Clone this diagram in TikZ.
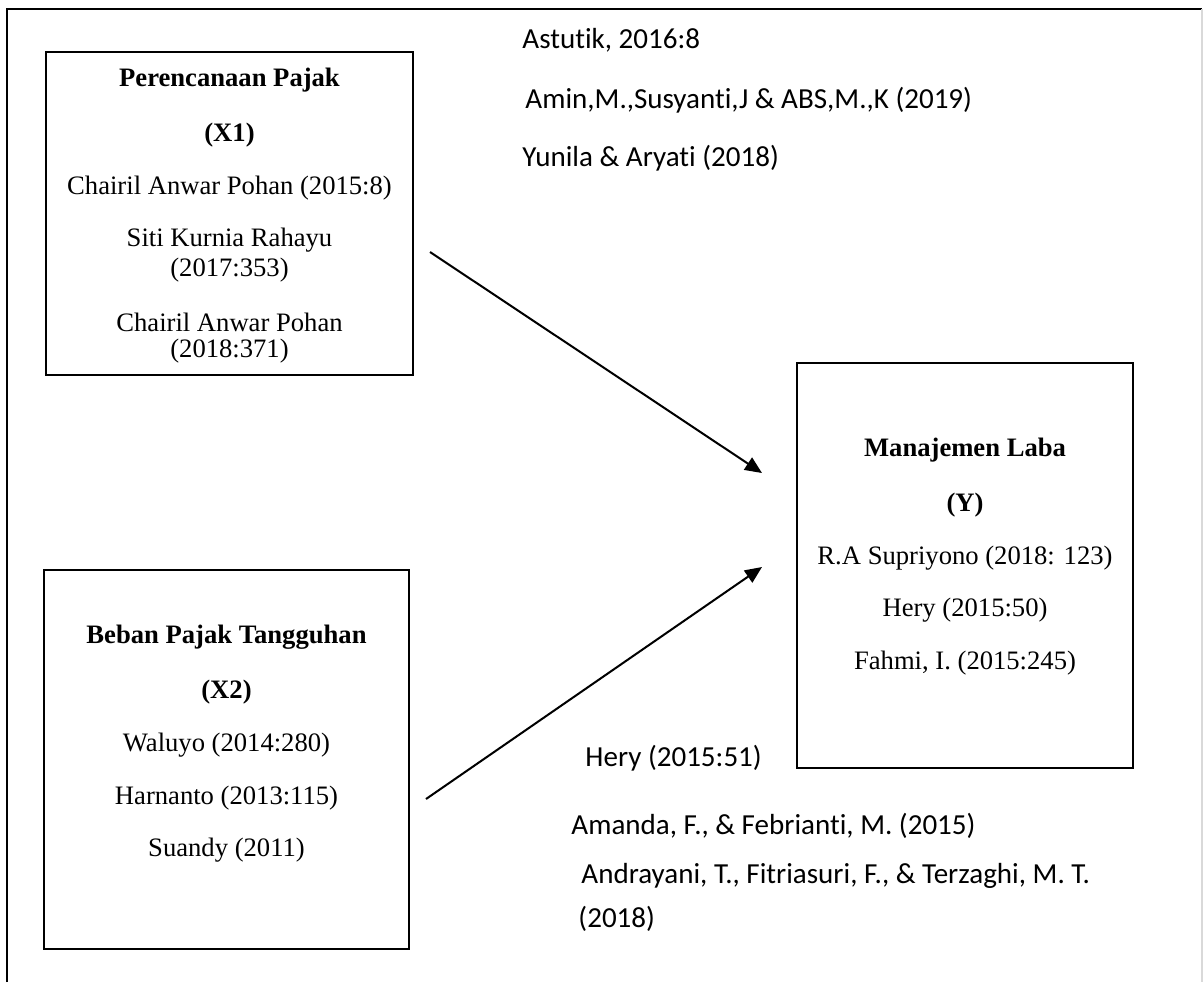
\documentclass[tikz,border=0pt]{standalone}
\usepackage{fontspec}
\setmainfont{Liberation Serif}
\newfontfamily\calibri[Ligatures=NoCommon]{Carlito}
\usetikzlibrary{arrows.meta}

\begin{document}
\begin{tikzpicture}[x=0.4132pt, y=-0.4132pt,
    kotak/.style={draw, line width=0.95pt, inner sep=0pt},
    judul/.style={font=\fontsize{11}{13}\selectfont\bfseries},
    isi/.style={font=\fontsize{11}{13}\selectfont},
    rujukan/.style={font=\calibri\fontsize{12}{14.6}\selectfont, anchor=west, inner sep=0pt},
    panah/.style={line width=0.83pt, -{Triangle[length=7pt, width=6pt]}}]
    \useasboundingbox (0,0) rectangle (1203,982);
    %the frame
    \draw[line width=1.2pt] (7,982) -- (7,9) -- (1202,9);
    \draw[black!15, line width=0.5pt] (1202,9) -- (1202,982);
    %the boxes
    \node (x1) [kotak, minimum width=151.6pt, minimum height=133.5pt] at (229.5,213.5) {};
    \node (x2) [kotak, minimum width=150.8pt, minimum height=156.6pt] at (226.5,759.5) {};
    \node (y) [kotak, minimum width=138.8pt, minimum height=167.3pt] at (965,565.5) {};
    %the entries of X1
    \path (229.5,80) node[judul] (x1a) {Perencanaan Pajak}
        (229.5,135) node[judul] (x1b) {(X1)}
        (229.5,188) node[isi] (x1c) {Chairil Anwar Pohan (2015:8)}
        (229.5,240) node[isi] (x1d) {Siti Kurnia Rahayu}
        (229.5,270) node[isi] (x1e) {(2017:353)}
        (229.5,322) node[isi] (x1f) {Chairil Anwar Pohan}
        (229.5,351) node[isi] (x1g) {(2018:371)};
    %the entries of X2
    \path (226.5,637) node[judul] (x2a) {Beban Pajak Tangguhan}
        (226.5,692) node[judul] (x2b) {(X2)}
        (226.5,745) node[isi] (x2c) {Waluyo (2014:280)}
        (226.5,798) node[isi] (x2d) {Harnanto (2013:115)}
        (226.5,850) node[isi] (x2e) {Suandy (2011)};
    %the entries of Y
    \path (965,450) node[judul] (ya) {Manajemen Laba}
        (965,505) node[judul] (yb) {(Y)}
        (965,558) node[isi] (yc) {R.A Supriyono (2018: 123)}
        (965,610) node[isi] (yd) {Hery (2015:50)}
        (965,663) node[isi] (ye) {Fahmi, I. (2015:245)};
    %the references
    \path (522,40) node[rujukan] (r1) {Astutik, 2016:8}
        (525,100) node[rujukan] (r2) {Amin,M.,Susyanti,J \& ABS,M.,K (2019)}
        (522,158) node[rujukan] (r3) {Yunila \& Aryati (2018)}
        (585,758) node[rujukan] (r4) {Hery (2015:51)}
        (571,826) node[rujukan] (r5) {Amanda, F., \& Febrianti, M. (2015)}
        (581,876) node[rujukan] (r6) {Andrayani, T., Fitriasuri, F., \& Terzaghi, M. T.}
        (578,919) node[rujukan] (r7) {(2018)};
    %the arrows
    \coordinate (p1a) at (430,252);
    \coordinate (p1b) at (762,473);
    \coordinate (p2a) at (426,799);
    \coordinate (p2b) at (762,567);
    \draw[panah] (p1a) -- (p1b);
    \draw[panah] (p2a) -- (p2b);
\end{tikzpicture}
\end{document}
